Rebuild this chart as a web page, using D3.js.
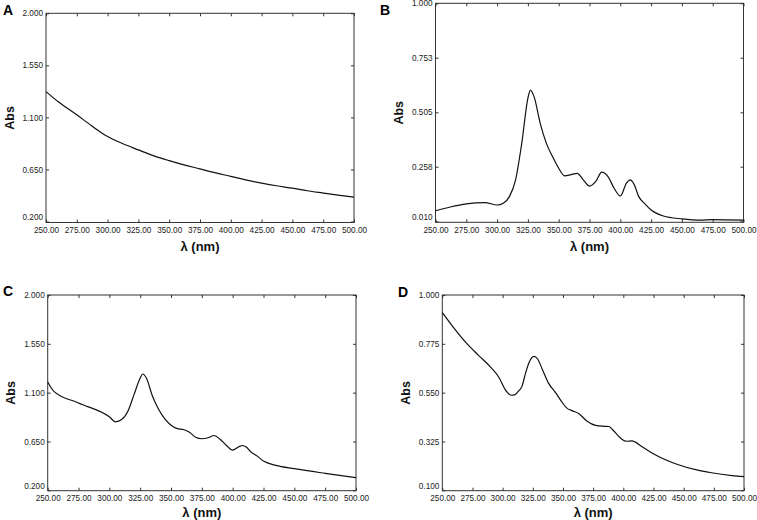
<!DOCTYPE html>
<html>
<head>
<meta charset="utf-8">
<script src="https://cdn.jsdelivr.net/npm/d3@7"></script>
<style>
  html, body { margin: 0; padding: 0; background: #fff; }
  svg { display: block; font-family: "Liberation Sans", Arial, Helvetica, sans-serif; }
</style>
</head>
<body>
<svg id="chart" width="757" height="520"></svg>
<script>
// ---------- DATA ----------
const xTicks = [250, 275, 300, 325, 350, 375, 400, 425, 450, 475, 500];
const yTicksA = [0.200, 0.650, 1.100, 1.550, 2.000];
const yTicksB = [0.010, 0.258, 0.505, 0.753, 1.000];
const yTicksC = [0.200, 0.650, 1.100, 1.550, 2.000];
const yTicksD = [0.100, 0.325, 0.550, 0.775, 1.000];

const wlA  = [250, 260, 275, 287, 300, 312, 325, 337, 350, 362, 375, 387, 400, 412, 425, 437, 450, 462, 475, 487, 500];
const absA = [1.323, 1.235, 1.122, 1.028, 0.934, 0.874, 0.819, 0.770, 0.726, 0.689, 0.655, 0.622, 0.590, 0.560, 0.532, 0.509, 0.488, 0.466, 0.446, 0.428, 0.410];

const wlB  = [250, 262, 275, 290, 300, 305, 310, 315, 320, 325, 327, 330, 335, 340, 345, 350, 355, 360, 365, 370, 375, 380, 385, 390, 395, 400, 405, 408, 411, 415, 420, 425, 435, 450, 465, 475, 500];
const absB = [0.058, 0.075, 0.089, 0.095, 0.084, 0.092, 0.122, 0.198, 0.364, 0.569, 0.606, 0.576, 0.455, 0.364, 0.304, 0.251, 0.216, 0.222, 0.228, 0.198, 0.170, 0.190, 0.233, 0.213, 0.160, 0.125, 0.183, 0.198, 0.180, 0.122, 0.089, 0.061, 0.034, 0.021, 0.015, 0.018, 0.015];

const wlC  = [250, 255, 275, 300, 305, 310, 315, 320, 325, 327, 330, 335, 340, 345, 350, 355, 360, 365, 370, 375, 380, 385, 390, 395, 400, 405, 408, 411, 415, 420, 425, 435, 450, 475, 500];
const absC = [1.198, 1.112, 1.005, 0.877, 0.831, 0.852, 0.929, 1.082, 1.235, 1.272, 1.235, 1.066, 0.944, 0.858, 0.800, 0.769, 0.760, 0.735, 0.689, 0.675, 0.684, 0.705, 0.668, 0.613, 0.570, 0.601, 0.613, 0.598, 0.552, 0.515, 0.469, 0.430, 0.399, 0.356, 0.317];

const wlD  = [250, 260, 270, 280, 290, 297, 302, 307, 310, 313, 316, 319, 322, 326, 329, 333, 338, 344, 350, 353, 358, 363, 370, 377, 384, 388, 391, 396, 399, 403, 407, 410, 415, 426, 445, 460, 473, 490, 500];
const absD = [0.919, 0.845, 0.778, 0.722, 0.668, 0.620, 0.565, 0.538, 0.540, 0.556, 0.579, 0.640, 0.690, 0.717, 0.705, 0.656, 0.594, 0.549, 0.500, 0.480, 0.466, 0.454, 0.418, 0.399, 0.395, 0.394, 0.380, 0.350, 0.334, 0.326, 0.328, 0.322, 0.303, 0.265, 0.219, 0.195, 0.181, 0.168, 0.163];

const panelLabels = ["A", "B", "C", "D"];
const xTitle = "λ (nm)";
const yTitle = "Abs";

// ---------- LAYOUT ----------
const panels = [
  { label: panelLabels[0], wl: wlA, abs: absA, yTicks: yTicksA, l: 46,    r: 354,   t: 13.3, b: 222.5, yb: 221.5, lab: [3, 15],   yt: 9.5, tt: 28.5 },
  { label: panelLabels[1], wl: wlB, abs: absB, yTicks: yTicksB, l: 435.5, r: 743.5, t: 3.3,  b: 222.3, yb: 221.3, lab: [380, 15], yt: 399, tt: 28.5 },
  { label: panelLabels[2], wl: wlC, abs: absC, yTicks: yTicksC, l: 47.7,  r: 356,   t: 295,  b: 490.7, yb: 490.3, lab: [3, 296],  yt: 11,  tt: 26 },
  { label: panelLabels[3], wl: wlD, abs: absD, yTicks: yTicksD, l: 442.3, r: 744,   t: 295,  b: 490.7, yb: 490.3, lab: [398, 297], yt: 406, tt: 26 }
];

const svg = d3.select("#chart");

panels.forEach(p => {
  const x = d3.scaleLinear().domain([250, 500]).range([p.l, p.r]);
  const yMin = d3.min(p.yTicks), yMax = d3.max(p.yTicks);
  const y = d3.scaleLinear().domain([yMin, yMax]).range([p.yb, p.t]);
  const g = svg.append("g");

  // frame
  g.append("rect")
    .attr("x", p.l).attr("y", p.t)
    .attr("width", p.r - p.l).attr("height", p.b - p.t)
    .attr("fill", "none").attr("stroke", "#333").attr("stroke-width", 1);

  const xb = g.append("g").attr("transform", `translate(0,${p.b})`)
    .call(d3.axisBottom(x).tickValues(xTicks).tickFormat(d3.format(".2f"))
      .tickSizeInner(-3).tickSizeOuter(0).tickPadding(4.5));
  const xt = g.append("g").attr("transform", `translate(0,${p.t})`)
    .call(d3.axisTop(x).tickValues(xTicks).tickFormat("")
      .tickSizeInner(-3).tickSizeOuter(0));
  const yl = g.append("g").attr("transform", `translate(${p.l},0)`)
    .call(d3.axisLeft(y).tickValues(p.yTicks).tickFormat(d3.format(".3f"))
      .tickSizeInner(-3).tickSizeOuter(0).tickPadding(3));
  const yr = g.append("g").attr("transform", `translate(${p.r},0)`)
    .call(d3.axisRight(y).tickValues(p.yTicks).tickFormat("")
      .tickSizeInner(-3).tickSizeOuter(0));

  [xb, xt, yl, yr].forEach(a => {
    a.select(".domain").remove();
    a.selectAll(".tick line").attr("stroke", "#333");
    a.selectAll(".tick text").attr("fill", "#222").style("font-size", "8.2px")
      .style("font-family", '"Liberation Sans", Arial, sans-serif');
  });
  yl.selectAll(".tick").filter(d => d === yMin).select("text").attr("dy", "-0.2em");

  const pts = p.wl.map((w, i) => [w, p.abs[i]]);
  g.append("path")
    .datum(pts)
    .attr("fill", "none").attr("stroke", "#111").attr("stroke-width", 1.2)
    .attr("d", d3.line().x(d => x(d[0])).y(d => y(d[1])).curve(d3.curveMonotoneX));

  g.append("text")
    .attr("x", (p.l + p.r) / 2).attr("y", p.b + p.tt)
    .attr("text-anchor", "middle")
    .style("font-size", "13px").style("font-weight", "bold").attr("fill", "#111")
    .text(xTitle);
  g.append("text")
    .attr("transform", `translate(${p.yt},${(p.t + p.b) / 2}) rotate(-90)`)
    .attr("text-anchor", "middle").attr("dy", "0.35em")
    .style("font-size", "12.5px").style("font-weight", "bold").attr("fill", "#111")
    .text(yTitle);

  g.append("text")
    .attr("x", p.lab[0]).attr("y", p.lab[1])
    .style("font-size", "14px").style("font-weight", "bold").attr("fill", "#000")
    .text(p.label);
});
</script>
</body>
</html>
